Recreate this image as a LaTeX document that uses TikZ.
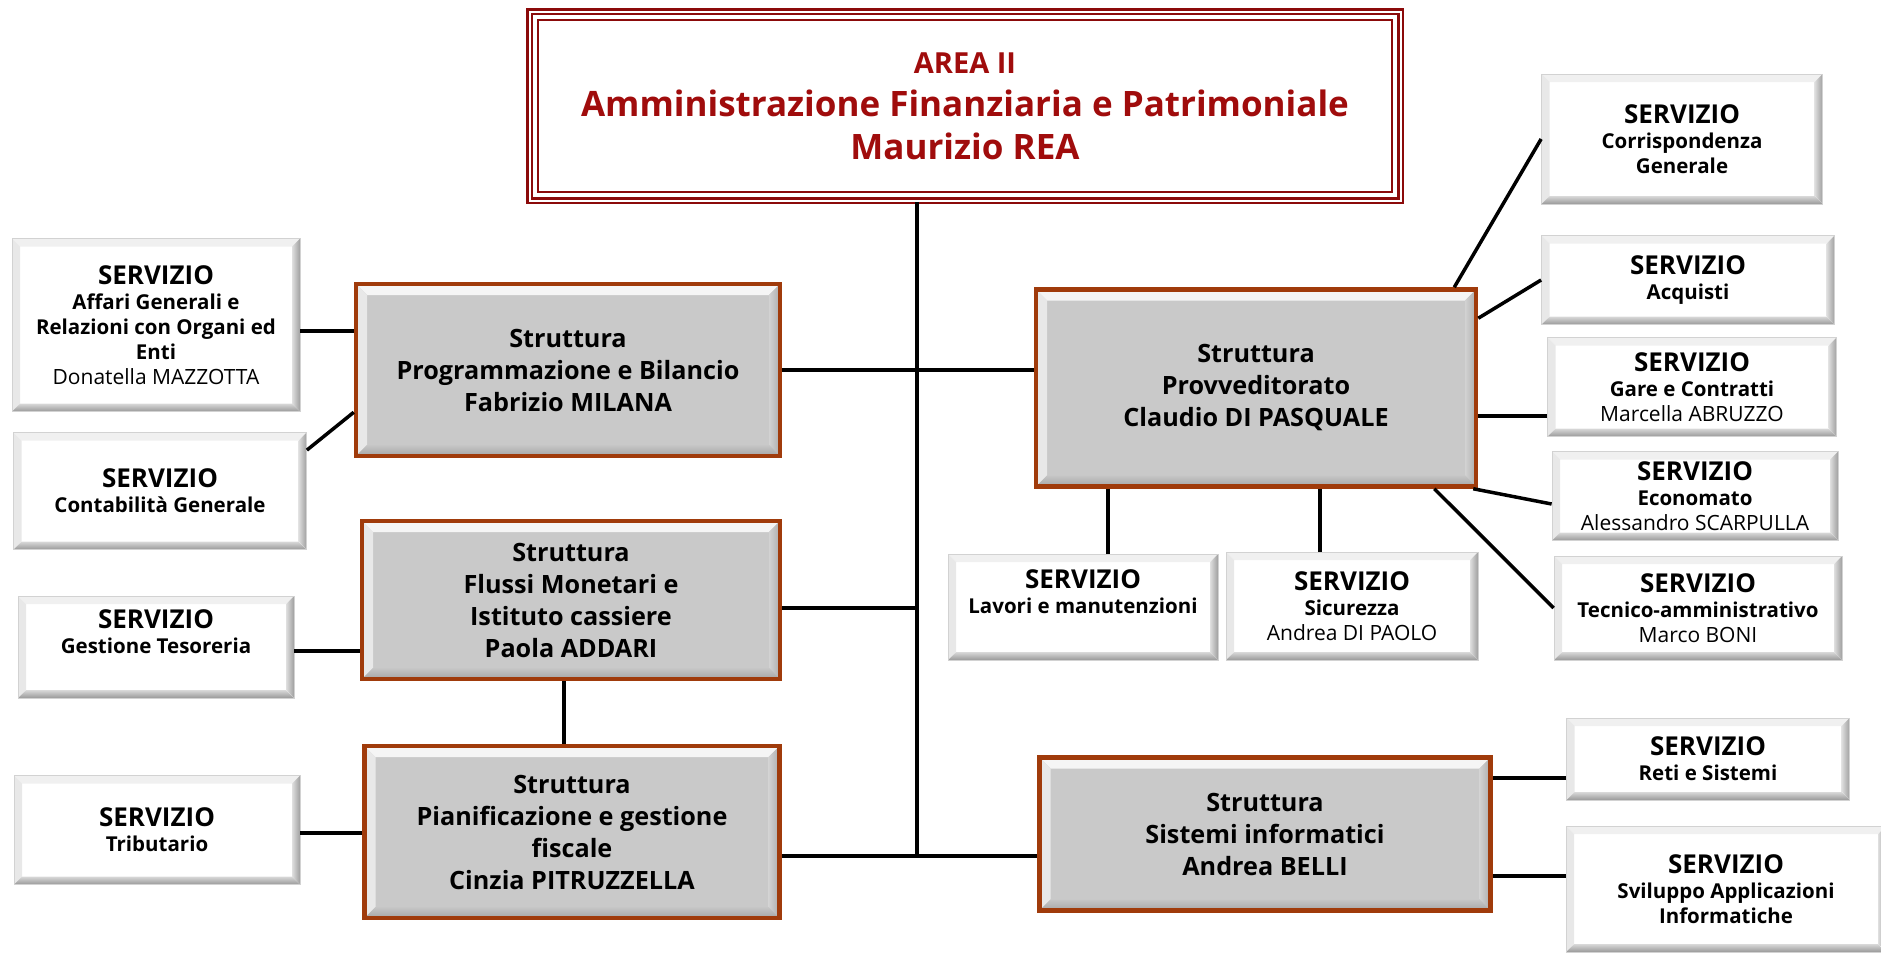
\documentclass[tikz,border=0pt]{standalone}
\usepackage{fontspec}
\setmainfont{Open Sans}
\usetikzlibrary{positioning}
\definecolor{areared}{HTML}{8B0A0A}
\definecolor{areatext}{HTML}{A00C0C}
\definecolor{sbrown}{HTML}{A03B0B}
\definecolor{sgray}{HTML}{C9C9C9}
\newcommand{\bevelpic}[5]{%
  \coordinate (bnw) at (path picture bounding box.north west);
  \coordinate (bne) at (path picture bounding box.north east);
  \coordinate (bsw) at (path picture bounding box.south west);
  \coordinate (bse) at (path picture bounding box.south east);
  \fill[#2] (bnw) -- (bne) -- ([shift={(-#1,-#1)}]bne) -- ([shift={(#1,-#1)}]bnw) -- cycle;
  \fill[#3] (bnw) -- (bsw) -- ([shift={(#1,#1)}]bsw) -- ([shift={(#1,-#1)}]bnw) -- cycle;
  \fill[#4] (bne) -- (bse) -- ([shift={(-#1,#1)}]bse) -- ([shift={(-#1,-#1)}]bne) -- cycle;
  \fill[#5] (bsw) -- (bse) -- ([shift={(-#1,#1)}]bse) -- ([shift={(#1,#1)}]bsw) -- cycle;}
\newcommand{\servfont}{\fontsize{20.5}{25}\selectfont\bfseries}
\newcommand{\strfont}{\fontsize{25.2}{32}\selectfont\bfseries}
\newcommand{\serv}{{\fontsize{26}{29}\selectfont SERVIZIO}}
\newcommand{\nome}[1]{{\fontsize{21}{25}\selectfont\mdseries #1}}
\tikzstyle{areabox} = [rectangle, draw=areared, line width=2.5pt, double=white, double distance=2pt, fill=white, align=center, text=areatext, font=\fontsize{35}{43}\selectfont\bfseries]
\tikzstyle{struttura} = [rectangle, draw=sbrown, line width=4.5pt, fill=sgray, align=center, inner sep=3pt, font=\strfont, path picture={\bevelpic{11pt}{gray!8}{gray!18}{left color=gray!35, right color=gray!65}{top color=gray!45, bottom color=gray!70}}]
\tikzstyle{servizio} = [rectangle, draw=gray!35, line width=0.8pt, fill=white, align=center, inner sep=2pt, font=\servfont, path picture={\bevelpic{8pt}{gray!12}{gray!18}{left color=gray!25, right color=gray!75}{top color=gray!30, bottom color=gray!80}}]
\tikzstyle{link} = [line width=3.5pt]

\begin{document}
\begin{tikzpicture}[x=1pt, y=-1pt]
  \useasboundingbox (0,0) rectangle (1881,953);
  \node (area) [areabox, minimum width=871pt, minimum height=189pt] at (965,106) {{\fontsize{29}{34}\selectfont AREA II}\\Amministrazione Finanziaria e Patrimoniale\\Maurizio REA};
  \draw [areared, line width=2pt] ([shift={(10pt,-10pt)}]area.north west) rectangle ([shift={(-10pt,10pt)}]area.south east);
  % strutture
  \node (prog) [struttura, minimum width=424pt, minimum height=172pt] at (568,370) {Struttura\\Programmazione e Bilancio\\Fabrizio MILANA};
  \node (flussi) [struttura, minimum width=418pt, minimum height=158pt] at (571,600) {Struttura\\Flussi Monetari e\\Istituto cassiere\\Paola ADDARI};
  \node (pian) [struttura, minimum width=415pt, minimum height=172pt] at (572,832) {Struttura\\Pianificazione e gestione\\fiscale\\Cinzia PITRUZZELLA};
  \node (provv) [struttura, minimum width=440pt, minimum height=197pt] at (1256,388) {Struttura\\Provveditorato\\Claudio DI PASQUALE};
  \node (sist) [struttura, minimum width=451pt, minimum height=153pt] at (1265,834) {Struttura\\Sistemi informatici\\Andrea BELLI};
  % servizi
  \node (affari) [servizio, minimum width=288pt, minimum height=173pt] at (156,325) {\serv\\Affari Generali e\\Relazioni con Organi ed\\Enti\\\nome{Donatella MAZZOTTA}};
  \node (contab) [servizio, minimum width=293pt, minimum height=117pt] at (160,491) {\serv\\Contabilità Generale};
  \node (gest) [servizio, minimum width=276pt, minimum height=102pt, text depth=30pt] at (156,647) {\serv\\Gestione Tesoreria};
  \node (trib) [servizio, minimum width=286pt, minimum height=109pt] at (157,830) {\serv\\Tributario};
  \node (corr) [servizio, minimum width=281pt, minimum height=130pt] at (1682,139) {\serv\\Corrispondenza\\Generale};
  \node (acq) [servizio, minimum width=293pt, minimum height=89pt] at (1688,280) {\serv\\Acquisti};
  \node (gare) [servizio, minimum width=289pt, minimum height=99pt] at (1692,387) {\serv\\Gare e Contratti\\\nome{Marcella ABRUZZO}};
  \node (econ) [servizio, minimum width=286pt, minimum height=89pt] at (1695,496) {\serv\\Economato\\\nome{Alessandro SCARPULLA}};
  \node (tec) [servizio, minimum width=288pt, minimum height=104pt] at (1698,608) {\serv\\Tecnico-amministrativo\\\nome{Marco BONI}};
  \node (lav) [servizio, minimum width=270pt, minimum height=106pt, text depth=30pt] at (1083,607) {\serv\\Lavori e manutenzioni};
  \node (sic) [servizio, minimum width=252pt, minimum height=108pt] at (1352,606) {\serv\\Sicurezza\\\nome{Andrea DI PAOLO}};
  \node (reti) [servizio, minimum width=283pt, minimum height=82pt] at (1708,759) {\serv\\Reti e Sistemi};
  \node (svil) [servizio, minimum width=320pt, minimum height=126pt] at (1726,889) {\serv\\Sviluppo Applicazioni\\Informatiche};
  % collegamenti
  \coordinate (trunk) at (917,856);
  \draw [link] (area.south -| trunk) -- (trunk);
  \draw [link] (prog.east) -- (prog.east -| provv.west);
  \draw [link] ([yshift=-8pt]flussi.east) -- ([yshift=-8pt]flussi.east -| trunk);
  \draw [link] ([yshift=-24pt]pian.east) -- (trunk) -- (trunk -| sist.west);
  \draw [link] ([xshift=-7pt]flussi.south) -- ([xshift=-7pt]flussi.south |- pian.north);
  \draw [link] ([yshift=-6pt]affari.east) -- ([yshift=-6pt]affari.east -| prog.west);
  \draw [link] ([yshift=-18pt]contab.north east) -- ([yshift=46pt]prog.south west);
  \draw [link] ([yshift=-4pt]gest.east) -- ([yshift=-4pt]gest.east -| flussi.west);
  \draw [link] ([yshift=-3pt]trib.east) -- ([yshift=-3pt]trib.east -| pian.west);
  \draw [link] (corr.west) -- ([xshift=-24pt]provv.north east);
  \draw [link] (acq.west) -- ([yshift=-31pt]provv.north east);
  \draw [link] ([yshift=-29pt]gare.west) -- ([yshift=-29pt]gare.west -| provv.east);
  \draw [link] ([yshift=-8pt]econ.west) -- ([xshift=-5pt]provv.south east);
  \draw [link] (tec.west) -- ([xshift=-44pt]provv.south east);
  \draw [link] ([xshift=-148pt]provv.south) -- ([xshift=-148pt]provv.south |- lav.north);
  \draw [link] ([xshift=-32pt]sic.north) -- ([xshift=-32pt]sic.north |- provv.south);
  \draw [link] ([yshift=-19pt]reti.west) -- ([yshift=-19pt]reti.west -| sist.east);
  \draw [link] ([yshift=13pt]svil.west) -- ([yshift=13pt]svil.west -| sist.east);
\end{tikzpicture}
\end{document}
